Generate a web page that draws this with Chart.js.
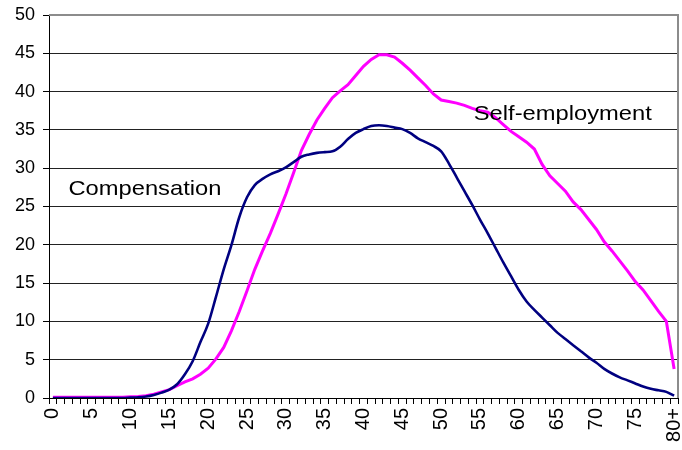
<!DOCTYPE html>
<html>
<head>
<meta charset="utf-8">
<script src="https://cdn.jsdelivr.net/npm/chart.js@4/dist/chart.umd.min.js"></script>
<style>
  html, body { margin: 0; padding: 0; background: #fff; }
  #wrap { width: 682px; height: 450px; position: relative; }
</style>
</head>
<body>
<div id="wrap"><canvas id="chart"></canvas></div>
<script>
// ages 0..79 and 80+
const ages = [
  '0', '1', '2', '3', '4', '5', '6', '7', '8', '9',
  '10', '11', '12', '13', '14', '15', '16', '17', '18', '19',
  '20', '21', '22', '23', '24', '25', '26', '27', '28', '29',
  '30', '31', '32', '33', '34', '35', '36', '37', '38', '39',
  '40', '41', '42', '43', '44', '45', '46', '47', '48', '49',
  '50', '51', '52', '53', '54', '55', '56', '57', '58', '59',
  '60', '61', '62', '63', '64', '65', '66', '67', '68', '69',
  '70', '71', '72', '73', '74', '75', '76', '77', '78', '79',
  '80+',
];

const compensation = [
  0, 0, 0, 0, 0, 0, 0, 0, 0, 0,
  0.05, 0.1, 0.2, 0.4, 0.7, 1.1, 1.8, 3.1, 4.8, 7.3,
  9.7, 13.2, 16.8, 20.0, 23.6, 26.2, 27.8, 28.6, 29.2, 29.6,
  30.1, 30.8, 31.5, 31.8, 32.0, 32.1, 32.2, 32.8, 33.8, 34.6,
  35.1, 35.5, 35.6, 35.5, 35.3, 35.1, 34.6, 33.9, 33.4, 32.9,
  32.2, 30.6, 28.8, 27.0, 25.2, 23.3, 21.5, 19.6, 17.7, 15.9,
  14.1, 12.6, 11.5, 10.5, 9.5, 8.5, 7.7, 6.9, 6.1, 5.3,
  4.6, 3.8, 3.2, 2.7, 2.3, 1.9, 1.5, 1.2, 1.0, 0.8,
  0.3,
];

const selfEmployment = [
  0.1, 0.1, 0.1, 0.1, 0.1, 0.1, 0.1, 0.1, 0.1, 0.1,
  0.15, 0.2, 0.3, 0.5, 0.8, 1.1, 1.6, 2.1, 2.5, 3.1,
  3.9, 5.1, 6.6, 8.8, 11.3, 14.0, 16.8, 19.2, 21.5, 24.0,
  26.6, 29.4, 32.3, 34.4, 36.3, 37.8, 39.2, 40.1, 40.9, 42.1,
  43.3, 44.2, 44.8, 44.8, 44.5, 43.7, 42.8, 41.8, 40.8, 39.7,
  38.9, 38.7, 38.5, 38.2, 37.8, 37.5, 37.3, 36.6, 35.7, 34.8,
  34.1, 33.4, 32.5, 30.5, 29.0, 28.0, 27.0, 25.6, 24.6, 23.3,
  22.0, 20.4, 19.2, 17.9, 16.6, 15.2, 14.1, 12.7, 11.3, 10.0,
  3.8,
];

const yMin = 0;
const yMax = 50;
const yStep = 5;

// series name labels drawn inside the plot: [text, category index, value]
const seriesLabels = [
  ['Compensation', 2, 26.5],
  ['Self-employment', 54.2, 36.3],
];

const FONT = { family: '"Liberation Sans", Arial, sans-serif', size: 18 };
const X_FONT = { family: '"Liberation Sans", Arial, sans-serif', size: 20 };

const plotFrame = {
  id: 'plotFrame',
  afterDatasetsDraw(chart) {
    const { ctx, chartArea } = chart;
    ctx.save();
    ctx.strokeStyle = '#8c8c8c';
    ctx.lineWidth = 2;
    ctx.beginPath();
    ctx.moveTo(chartArea.left, chartArea.top);
    ctx.lineTo(chartArea.right, chartArea.top);
    ctx.lineTo(chartArea.right, chartArea.bottom);
    ctx.stroke();
    ctx.restore();
  },
  afterDraw(chart) {
    const { ctx, scales } = chart;
    ctx.fillStyle = '#000';
    ctx.font = '21px "Liberation Sans", Arial, sans-serif';
    ctx.textBaseline = 'alphabetic';
    seriesLabels.forEach(([text, idx, val]) => {
      ctx.save();
      ctx.translate(scales.x.getPixelForValue(idx), scales.y.getPixelForValue(val));
      ctx.scale(1.13, 1); // text in the original is slightly stretched
      ctx.fillText(text, 0, 0);
      ctx.restore();
    });
  },
};

new Chart(document.getElementById('chart'), {
  type: 'line',
  data: {
    labels: ages,
    datasets: [
      {
        label: 'Compensation',
        data: compensation,
        borderColor: '#000080',
        borderWidth: 2.6,
        pointRadius: 0,
        cubicInterpolationMode: 'monotone',
      },
      {
        label: 'Self-employment',
        data: selfEmployment,
        borderColor: '#ff00ff',
        borderWidth: 3,
        pointRadius: 0,
        tension: 0,
      },
    ],
  },
  options: {
    responsive: true,
    maintainAspectRatio: false,
    animation: false,
    layout: { padding: { top: 15, right: 4, left: 0, bottom: 0 } },
    plugins: {
      legend: { display: false },
      tooltip: { enabled: false },
    },
    scales: {
      x: {
        type: 'category',
        offset: true,
        afterFit: (scale) => {
          scale.height = 52;
          scale.paddingLeft = 0;
          scale.paddingRight = 0;
        },
        grid: {
          offset: true,
          drawOnChartArea: false,
          drawTicks: true,
          tickLength: 6,
          tickColor: '#000',
        },
        border: { color: '#000', width: 1 },
        ticks: {
          autoSkip: false,
          maxRotation: 90,
          minRotation: 90,
          padding: 4,
          color: '#000',
          font: X_FONT,
          callback: (value, index) => (index % 5 === 0 || index === ages.length - 1 ? ages[index] : ''),
        },
      },
      y: {
        min: yMin,
        max: yMax,
        afterFit: (scale) => {
          scale.width = 49;
          scale.paddingTop = 0;
          scale.paddingBottom = 0;
        },
        grid: {
          color: '#222',
          lineWidth: 1,
          drawTicks: true,
          tickLength: 6,
          tickColor: '#000',
        },
        border: { color: '#000', width: 1 },
        ticks: {
          stepSize: yStep,
          padding: 8,
          color: '#000',
          font: FONT,
        },
      },
    },
  },
  plugins: [plotFrame],
});
</script>
</body>
</html>
